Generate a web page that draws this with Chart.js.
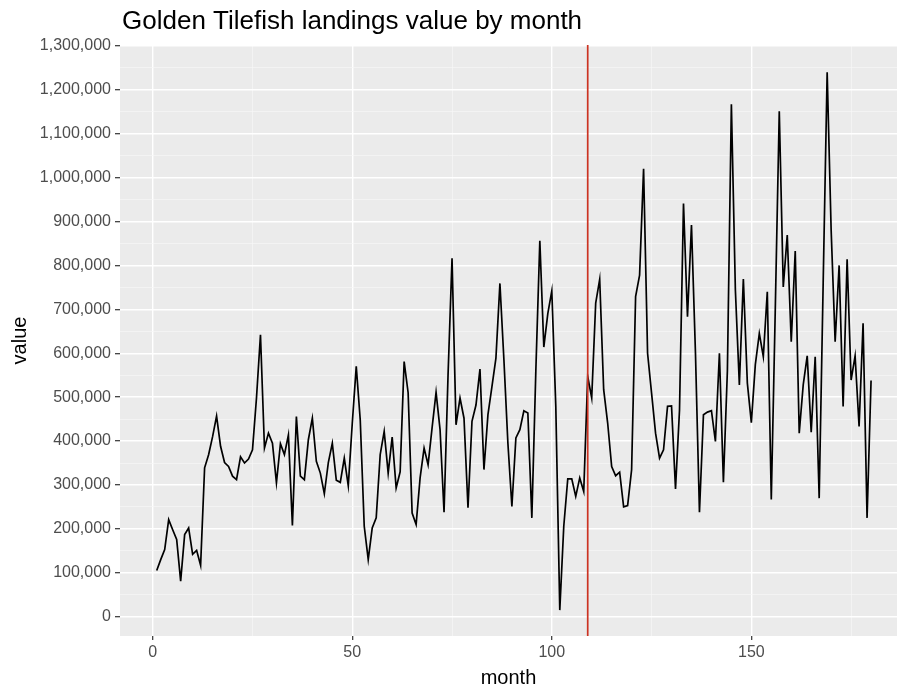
<!DOCTYPE html>
<html>
<head>
<meta charset="utf-8">
<script src="https://cdn.jsdelivr.net/npm/chart.js@4.4.1/dist/chart.umd.min.js"></script>
<style>
  html, body { margin: 0; padding: 0; background: #ffffff; }
  #wrap { position: relative; width: 897px; height: 690px; }
</style>
</head>
<body>
<div id="wrap"><canvas id="c" width="897" height="690"></canvas></div>
<script>
const chartTitle = 'Golden Tilefish landings value by month';
const xTitle = 'month';
const yTitle = 'value';
const cutMonth = 109;

const months = [
  1,2,3,4,5,6,7,8,9,10,11,12,13,14,15,16,17,18,19,20,
  21,22,23,24,25,26,27,28,29,30,31,32,33,34,35,36,37,38,39,40,
  41,42,43,44,45,46,47,48,49,50,51,52,53,54,55,56,57,58,59,60,
  61,62,63,64,65,66,67,68,69,70,71,72,73,74,75,76,77,78,79,80,
  81,82,83,84,85,86,87,88,89,90,91,92,93,94,95,96,97,98,99,100,
  101,102,103,104,105,106,107,108,109,110,111,112,113,114,115,116,117,118,119,120,
  121,122,123,124,125,126,127,128,129,130,131,132,133,134,135,136,137,138,139,140,
  141,142,143,144,145,146,147,148,149,150,151,152,153,154,155,156,157,158,159,160,
  161,162,163,164,165,166,167,168,169,170,171,172,173,174,175,176,177,178,179,180
];

const values = [
  105000,130000,153000,221000,198000,176000,81000,187000,202000,142000,
  151000,117000,339000,369000,410000,457000,388000,351000,342000,320000,
  312000,364000,350000,359000,380000,498000,642000,384000,418000,395000,
  305000,394000,369000,414000,208000,456000,320000,312000,403000,452000,
  354000,327000,280000,351000,395000,311000,306000,361000,298000,440000,
  570000,448000,206000,130000,202000,225000,369000,422000,327000,409000,
  293000,330000,581000,510000,236000,210000,316000,384000,346000,430000,
  511000,426000,238000,550000,816000,437000,498000,452000,248000,445000,
  482000,564000,335000,460000,524000,589000,759000,585000,395000,251000,
  407000,426000,469000,464000,225000,560000,856000,614000,690000,742000,
  480000,15000,206000,314000,314000,274000,316000,285000,547000,498000,
  714000,768000,517000,441000,342000,321000,329000,250000,253000,335000,
  729000,778000,1020000,600000,509000,418000,361000,380000,479000,480000,
  291000,470000,941000,683000,892000,600000,238000,460000,466000,469000,
  399000,600000,306000,560000,1167000,744000,528000,769000,532000,442000,
  574000,645000,592000,740000,267000,700000,1151000,751000,869000,626000,
  833000,418000,528000,594000,420000,592000,270000,760000,1240000,880000,
  626000,800000,479000,814000,539000,594000,433000,668000,225000,538000
];

const xMajorTicks = [0, 50, 100, 150];
const xMinorTicks = [25, 75, 125, 175];
const yMajorTicks = [0,100000,200000,300000,400000,500000,600000,700000,800000,900000,1000000,1100000,1200000,1300000];
const yMinorTicks = [50000,150000,250000,350000,450000,550000,650000,750000,850000,950000,1050000,1150000,1250000];

const points = months.map((m, i) => ({ x: m, y: values[i] }));

const FONT = "'Liberation Sans', Arial, Helvetica, sans-serif";
const fmt = v => v.toLocaleString('en-US');

const panelBg = {
  id: 'panelBg',
  beforeDraw(chart) {
    const { ctx, chartArea: a } = chart;
    ctx.save();
    ctx.fillStyle = '#ebebeb';
    ctx.fillRect(a.left, a.top, a.right - a.left, a.bottom - a.top);
    ctx.restore();
  }
};

const cutLine = {
  id: 'cutLine',
  afterDatasetsDraw(chart) {
    const { ctx, chartArea: a, scales } = chart;
    const px = scales.x.getPixelForValue(cutMonth);
    ctx.save();
    ctx.strokeStyle = '#cc3322';
    ctx.lineWidth = 1.7;
    ctx.beginPath();
    ctx.moveTo(px, a.top);
    ctx.lineTo(px, a.bottom);
    ctx.stroke();
    ctx.restore();
  }
};

const titleDraw = {
  id: 'titleDraw',
  afterDraw(chart) {
    const { ctx, chartArea: a } = chart;
    ctx.save();
    ctx.fillStyle = '#000000';
    ctx.font = "26px " + FONT;
    ctx.textBaseline = 'alphabetic';
    ctx.textAlign = 'left';
    ctx.fillText(chartTitle, a.left + 2, 29);
    ctx.restore();
  }
};

const isMajorX = v => xMajorTicks.includes(v);
const isMajorY = v => yMajorTicks.includes(v);

new Chart(document.getElementById('c'), {
  type: 'line',
  data: {
    datasets: [{
      data: points,
      borderColor: '#000000',
      borderWidth: 1.7,
      pointRadius: 0,
      tension: 0,
      fill: false
    }]
  },
  options: {
    responsive: false,
    animation: false,
    devicePixelRatio: 1,
    layout: { padding: { top: 45, right: 0, left: 0, bottom: 0 } },
    plugins: {
      legend: { display: false },
      tooltip: { enabled: false },
      title: { display: false }
    },
    scales: {
      x: {
        type: 'linear',
        min: -8.2,
        max: 186.5,
        afterBuildTicks: s => { s.ticks = xMajorTicks.concat(xMinorTicks).sort((a,b)=>a-b).map(v => ({ value: v })); },
        afterFit: s => { s.height = 54; },
        border: { display: false },
        grid: {
          drawTicks: true,
          tickLength: 4,
          tickWidth: 1.2,
          tickColor: c => isMajorX(c.tick.value) ? '#333333' : 'rgba(0,0,0,0)',
          color: c => isMajorX(c.tick.value) ? '#ffffff' : '#f7f7f7',
          lineWidth: c => isMajorX(c.tick.value) ? 1.4 : 0.7
        },
        ticks: {
          autoSkip: false,
          maxRotation: 0,
          padding: 3,
          color: '#4d4d4d',
          font: { family: FONT, size: 16 },
          callback: v => isMajorX(v) ? String(v) : ''
        },
        title: {
          display: true,
          text: xTitle,
          color: '#000000',
          font: { family: FONT, size: 20 },
          padding: { top: 0, bottom: 0 }
        }
      },
      y: {
        type: 'linear',
        min: -44000,
        max: 1302000,
        afterBuildTicks: s => { s.ticks = yMajorTicks.concat(yMinorTicks).sort((a,b)=>a-b).map(v => ({ value: v })); },
        afterFit: s => { s.width = 120; },
        border: { display: false },
        grid: {
          drawTicks: true,
          tickLength: 5,
          tickWidth: 1.2,
          tickColor: c => isMajorY(c.tick.value) ? '#333333' : 'rgba(0,0,0,0)',
          color: c => isMajorY(c.tick.value) ? '#ffffff' : '#f7f7f7',
          lineWidth: c => isMajorY(c.tick.value) ? 1.4 : 0.7
        },
        ticks: {
          autoSkip: false,
          padding: 4,
          color: '#4d4d4d',
          font: { family: FONT, size: 16 },
          callback: v => isMajorY(v) ? fmt(v) : ''
        },
        title: {
          display: true,
          text: yTitle,
          color: '#000000',
          font: { family: FONT, size: 20 },
          padding: { top: 8, bottom: 0 }
        }
      }
    }
  },
  plugins: [panelBg, cutLine, titleDraw]
});
</script>
</body>
</html>
